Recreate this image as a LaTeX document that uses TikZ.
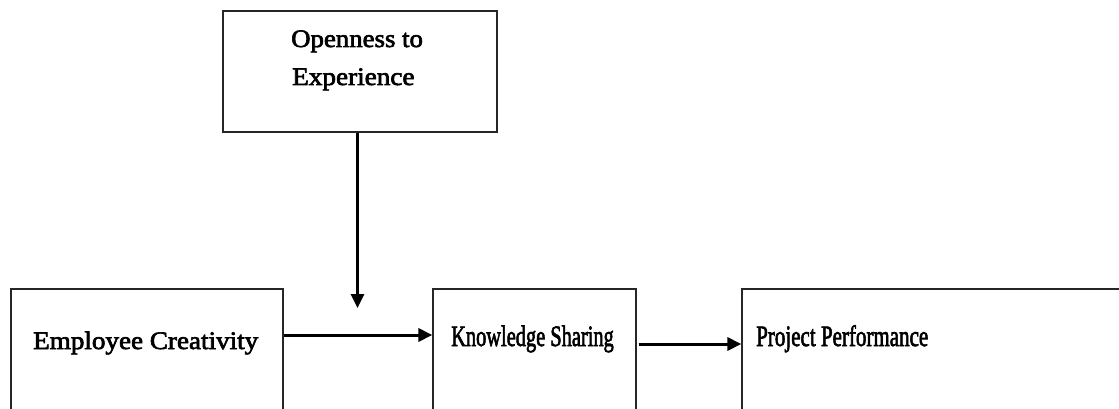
\documentclass[tikz,border=0pt]{standalone}
\usepackage{fontspec}
\setmainfont{Liberation Serif}
\newfontfamily\lblfont[FakeBold=2.5]{Liberation Serif}
\usetikzlibrary{arrows.meta}
\tikzset{
  box/.style={draw=black!85, line width=1.2pt, rectangle, inner sep=0pt},
  lbl/.style={inner sep=0pt, anchor=base west, font=\lblfont\fontsize{20pt}{24pt}\selectfont},
  arr/.style={line width=3pt, -{Triangle[length=14pt,width=13pt]}},
}
\begin{document}
\begin{tikzpicture}[x=1pt,y=1pt]
\useasboundingbox (0,0) rectangle (1119,-409);
\clip (0,0) rectangle (1119,-409);
% boxes
\node[box, minimum width=274pt, minimum height=121pt] (open) at (360,-71.5) {};
\node[box, minimum width=272pt, minimum height=161pt] (emp) at (147,-369.5) {};
\node[box, minimum width=203pt, minimum height=161pt] (ks) at (534.5,-369.5) {};
\node[box, minimum width=388pt, minimum height=161pt] (pp) at (936,-369.5) {};
% labels
\node[lbl] (t1) at (291,-47) {\scalebox{1.34}[1.26]{Openness to}};
\node[lbl] (t2) at (292,-85) {\scalebox{1.36}[1.26]{Experience}};
\node[lbl] (t3) at (33,-349) {\scalebox{1.355}[1.26]{Employee Creativity}};
\node[lbl] (t4) at (451,-346) {\scalebox{1.02}[1.48]{Knowledge Sharing}};
\node[lbl] (t5) at (756,-346) {\scalebox{1.05}[1.48]{Project Performance}};
% connectors
\coordinate (y1) at (0,-335);
\coordinate (y2) at (0,-344);
\coordinate (xv) at (357.5,0);
\coordinate (vend) at (357.5,-308);
\draw[arr] (emp.east |- y1) -- (ks.west |- y1);
\draw[arr] ([xshift=2pt]ks.east |- y2) -- (pp.west |- y2);
\draw[arr] (open.south -| xv) -- (vend);
\end{tikzpicture}
\end{document}
